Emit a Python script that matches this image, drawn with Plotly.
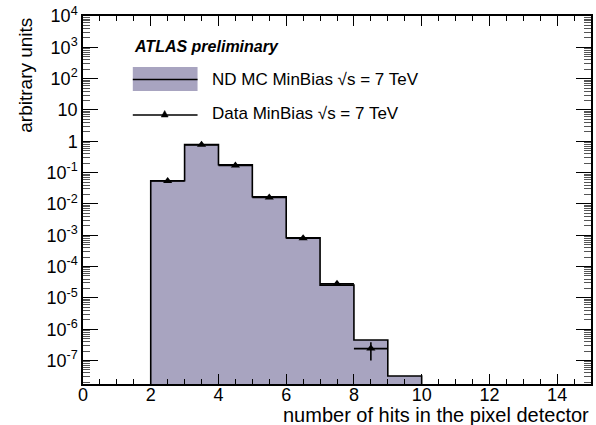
import plotly.graph_objects as go

# ---- data ----
bin_edges = [2, 3, 4, 5, 6, 7, 8, 9, 10]
mc_values = [0.055, 0.79, 0.178, 0.017, 8.3e-4, 2.55e-5, 4.5e-7, 3.2e-8]
data_x = [2.5, 3.5, 4.5, 5.5, 6.5, 7.5, 8.5]
data_y = [0.054, 0.77, 0.17, 0.016, 8.0e-4, 2.8e-5, 2.4e-7]
data_yerr = [0.0, 0.0, 0.0, 0.0, 0.0, 0.0, 1.4e-7]
data_xerr = [0.5, 0.5, 0.5, 0.5, 0.5, 0.5, 0.5]

y_exp_ticks = [4, 3, 2, 1, 0, -1, -2, -3, -4, -5, -6, -7]
y_tick_text = ["10<sup>4</sup>", "10<sup>3</sup>", "10<sup>2</sup>", "10", "1",
               "10<sup>-1</sup>", "10<sup>-2</sup>", "10<sup>-3</sup>", "10<sup>-4</sup>",
               "10<sup>-5</sup>", "10<sup>-6</sup>", "10<sup>-7</sup>"]
x_ticks = [0, 2, 4, 6, 8, 10, 12, 14]

y_log_range = [-7.75, 4]
x_range = [0, 15]

FILL = "#a8a4c0"
FONT = "Liberation Sans"

floor_val = 10 ** (y_log_range[0] - 1)
step_x = [bin_edges[0]] + bin_edges
step_y = [floor_val] + mc_values + [floor_val]

fig = go.Figure()
fig.add_trace(go.Scatter(
    x=step_x, y=step_y, mode="lines", line=dict(shape="hv", color="black", width=1.6),
    fill="toself", fillcolor=FILL, showlegend=False, hoverinfo="skip"))
fig.add_trace(go.Scatter(
    x=data_x, y=data_y, mode="markers",
    marker=dict(symbol="triangle-up", size=8, color="black"),
    error_x=dict(type="data", array=data_xerr, color="black", thickness=1.6, width=0),
    error_y=dict(type="data", array=data_yerr, color="black", thickness=1.6, width=0),
    showlegend=False))

# plot area in pixels
L, R, T, B = 83, 593, 16, 384
W, H = R - L, B - T
def px(x):
    return (x - L) / W
def py(y):
    return 1 - (y - T) / H

shapes = []
# legend MC box
shapes.append(dict(type="rect", xref="paper", yref="paper", x0=px(133), x1=px(198),
                   y0=py(91), y1=py(67), fillcolor=FILL, line=dict(width=0), layer="above"))
shapes.append(dict(type="line", xref="paper", yref="paper", x0=px(133), x1=px(198),
                   y0=py(79.5), y1=py(79.5), line=dict(color="black", width=1.6)))
# legend data line + triangle
shapes.append(dict(type="line", xref="paper", yref="paper", x0=px(133), x1=px(198),
                   y0=py(115), y1=py(115), line=dict(color="black", width=1.6)))
cx, cy = 165, 114
shapes.append(dict(type="path", xref="paper", yref="paper",
                   path=f"M {px(cx-3.5)},{py(cy+3)} L {px(cx+3.5)},{py(cy+3)} L {px(cx)},{py(cy-3.5)} Z",
                   fillcolor="black", line=dict(color="black", width=0.5)))

annotations = [
    dict(text="<b><i>ATLAS preliminary</i></b>", xref="paper", yref="paper",
         x=px(132), y=py(47), xanchor="left", yanchor="middle", showarrow=False,
         font=dict(family=FONT, size=16, color="black")),
    dict(text="ND MC MinBias √s = 7 TeV", xref="paper", yref="paper",
         x=px(211), y=py(79), xanchor="left", yanchor="middle", showarrow=False,
         font=dict(family=FONT, size=17, color="black")),
    dict(text="Data MinBias √s = 7 TeV", xref="paper", yref="paper",
         x=px(211), y=py(114), xanchor="left", yanchor="middle", showarrow=False,
         font=dict(family=FONT, size=17, color="black")),
    dict(text="arbitrary units", xref="paper", yref="paper",
         x=px(25), y=py(16), xanchor="center", yanchor="top", textangle=-90, showarrow=False,
         font=dict(family=FONT, size=19, color="black")),
    dict(text="number of hits in the pixel detector", xref="paper", yref="paper",
         x=px(593), y=py(415), xanchor="right", yanchor="middle", showarrow=False,
         font=dict(family=FONT, size=20, color="black")),
]

fig.update_layout(
    width=596, height=425,
    margin=dict(l=L, r=596 - R, t=T, b=425 - B),
    paper_bgcolor="white", plot_bgcolor="white",
    font=dict(family=FONT, size=17, color="black"),
    shapes=shapes, annotations=annotations, showlegend=False,
    xaxis=dict(range=x_range, tickvals=x_ticks, ticks="inside", ticklen=10, tickwidth=1,
               tickcolor="black", showline=True, linecolor="black", linewidth=1.5,
               mirror="ticks", showgrid=False, zeroline=False, ticklabelstandoff=-6,
               minor=dict(ticks="inside", ticklen=5, dtick=0.5, tickcolor="black", showgrid=False),
               tickfont=dict(family=FONT, size=18)),
    yaxis=dict(type="log", range=y_log_range,
               tickvals=[10 ** e for e in y_exp_ticks], ticktext=y_tick_text,
               ticks="inside", ticklen=15, tickwidth=1, tickcolor="black",
               showline=True, linecolor="black", linewidth=1.5, mirror="ticks",
               showgrid=False, zeroline=False,
               minor=dict(ticks="inside", ticklen=7, dtick="D1", tickcolor="#555", showgrid=False),
               tickfont=dict(family=FONT, size=18)),
)

fig.write_html("out.html")
